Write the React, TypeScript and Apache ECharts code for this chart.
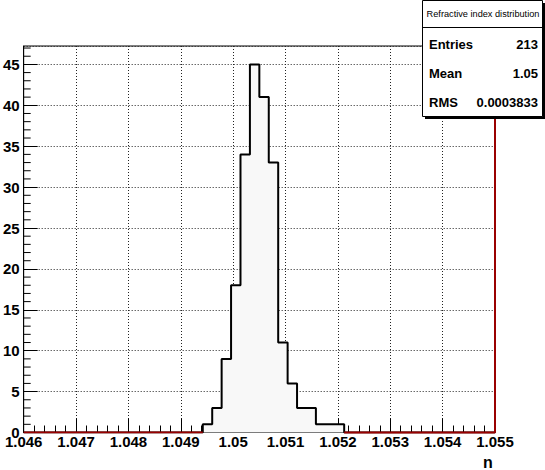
import React, { useEffect, useRef } from "react";
import * as echarts from "echarts";

// Histogram definition (50 bins from 1.046 to 1.055)
const binLow = 1.046;
const binWidth = 0.00018;
const counts = [
  0, 0, 0, 0, 0, 0, 0, 0, 0, 0,
  0, 0, 0, 0, 0, 0, 0, 0, 0, 1,
  3, 9, 18, 34, 45, 41, 33, 11, 6, 3,
  3, 1, 1, 1, 0, 0, 0, 0, 0, 0,
  0, 0, 0, 0, 0, 0, 0, 0, 0, 0,
];

// Axis ranges
const xMin = 1.046;
const xMax = 1.055;
const xInterval = 0.001;
const yMin = 0;
const yMax = 47.25;
const yInterval = 5;

// Stats box
const statsTitle = "Refractive index distribution";
const statsLabels = ["Entries", "Mean", "RMS"];
const statsValues = ["213", "1.05", "0.0003833"];
const xAxisTitle = "n";

const FONT = "Liberation Sans, Arial, Helvetica, sans-serif";

export default function App() {
  const ref = useRef<HTMLDivElement>(null);

  useEffect(() => {
    document.body.style.margin = "0";
    if (!ref.current) return;
    const chart = echarts.init(ref.current, undefined, { renderer: "svg" });

    const edges = counts.map((_, i) => binLow + i * binWidth);
    const lastEdge = binLow + counts.length * binWidth;
    const histPoints: number[][] = counts.map((c, i) => [edges[i], c]);
    histPoints.push([lastEdge, counts[counts.length - 1]]);

    const first = counts.findIndex((c) => c > 0);
    const last = counts.length - 1 - [...counts].reverse().findIndex((c) => c > 0);
    const leftZeroEnd = edges[first];
    const rightZeroStart = binLow + (last + 1) * binWidth;

    // y minor tick positions (every unit, skipping majors)
    const yMinor: number[][] = [];
    for (let v = 1; v < yMax; v++) {
      if (v % yInterval !== 0) yMinor.push([xMin, v]);
    }

    const Z = 200;
    const statsChildren: any[] = [
      { type: "rect", z: Z, shape: { x: 425, y: 3, width: 120, height: 116 }, style: { fill: "#000" } },
      { type: "rect", z: Z + 1, shape: { x: 422.5, y: 0.5, width: 120, height: 116 }, style: { fill: "#fff", stroke: "#000", lineWidth: 1 } },
      { type: "line", z: Z + 2, shape: { x1: 422.5, y1: 27.5, x2: 542.5, y2: 27.5 }, style: { stroke: "#000", lineWidth: 1 } },
      {
        type: "text",
        z: Z + 2,
        x: 483,
        y: 14,
        style: { text: statsTitle, fill: "#000", font: `9.2px ${FONT}`, align: "center", verticalAlign: "middle" },
      },
    ];
    statsLabels.forEach((lab, i) => {
      const y = 44 + i * 29;
      statsChildren.push({
        type: "text",
        z: Z + 2,
        x: 429,
        y,
        style: { text: lab, fill: "#000", font: `bold 13px ${FONT}`, align: "left", verticalAlign: "middle" },
      });
      statsChildren.push({
        type: "text",
        z: Z + 2,
        x: 538,
        y,
        style: { text: statsValues[i], fill: "#000", font: `bold 13px ${FONT}`, align: "right", verticalAlign: "middle" },
      });
    });

    const option: any = {
      animation: false,
      backgroundColor: "#fff",
      grid: {
        left: 23,
        right: 50,
        top: 46,
        bottom: 37.5,
        show: true,
        borderColor: "#000",
        borderWidth: 1,
        backgroundColor: "transparent",
      },
      xAxis: {
        type: "value",
        min: xMin,
        max: xMax,
        interval: xInterval,
        axisLine: { show: true, onZero: false, lineStyle: { color: "#000", width: 1 } },
        axisTick: { show: true, inside: true, length: 14, lineStyle: { color: "#000" } },
        minorTick: { show: true, splitNumber: 5, length: 7, lineStyle: { color: "#000" } },
        splitLine: { show: true, lineStyle: { color: "#222", type: [1, 2], width: 1 } },
        axisLabel: {
          margin: 1,
          color: "#000",
          fontFamily: FONT,
          fontWeight: "bold",
          fontSize: 15,
          formatter: (v: number) => String(parseFloat(v.toFixed(3))),
        },
      },
      yAxis: {
        type: "value",
        min: yMin,
        max: yMax,
        interval: yInterval,
        axisLine: { show: true, lineStyle: { color: "#000", width: 1 } },
        axisTick: { show: true, inside: true, length: 14, lineStyle: { color: "#000" } },
        minorTick: { show: false },
        splitLine: { show: true, lineStyle: { color: "#222", type: [1, 2], width: 1 } },
        axisLabel: {
          margin: 4,
          color: "#000",
          fontFamily: FONT,
          fontWeight: "bold",
          fontSize: 15,
          showMaxLabel: false,
        },
      },
      graphic: [
        { type: "group", z: Z, children: statsChildren },
        {
          type: "text",
          x: 488,
          y: 462,
          style: { text: xAxisTitle, fill: "#000", font: `bold 16px ${FONT}`, align: "center", verticalAlign: "middle" },
        },
      ],
      series: [
        {
          type: "line",
          data: histPoints,
          step: "end",
          symbol: "none",
          lineStyle: { color: "#000", width: 2 },
          areaStyle: { color: "#f8f8f8", opacity: 1 },
          silent: true,
          z: 3,
        },
        {
          type: "line",
          data: [[xMin, 0], [leftZeroEnd, 0]],
          symbol: "none",
          lineStyle: { color: "#990000", width: 2 },
          silent: true,
          z: 4,
        },
        {
          type: "line",
          data: [[rightZeroStart, 0], [xMax, 0], [xMax, yMax]],
          symbol: "none",
          lineStyle: { color: "#990000", width: 2 },
          silent: true,
          clip: false,
          z: 4,
        },
        {
          type: "custom",
          data: yMinor,
          silent: true,
          clip: false,
          z: 5,
          renderItem: (params: any, api: any) => {
            const c = api.coord([api.value(0), api.value(1)]);
            return {
              type: "line",
              shape: { x1: c[0], y1: c[1], x2: c[0] + 7, y2: c[1] },
              style: { stroke: "#000", lineWidth: 1 },
            };
          },
        },
      ],
    };

    chart.setOption(option);
    return () => chart.dispose();
  }, []);

  return <div ref={ref} style={{ width: 545, height: 470 }} />;
}
